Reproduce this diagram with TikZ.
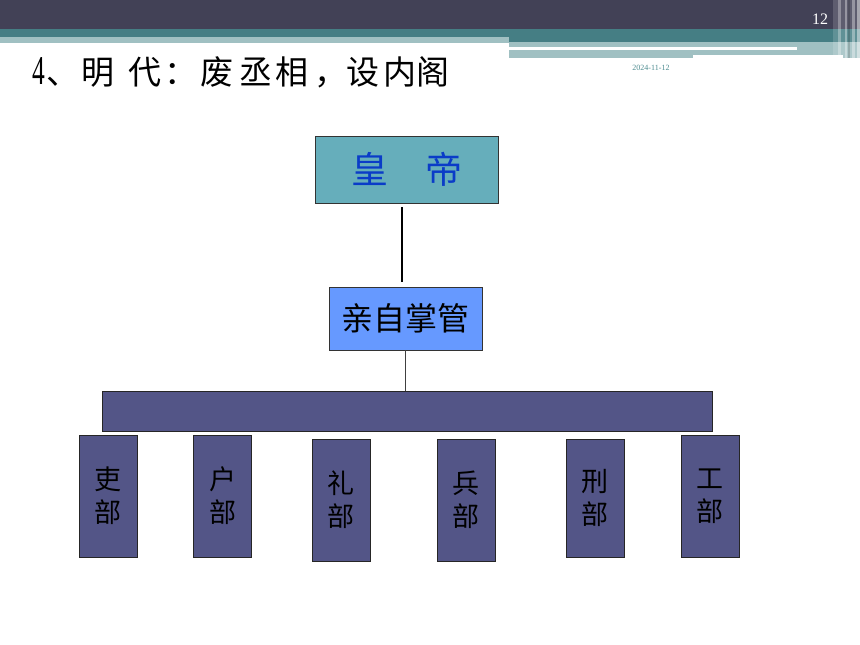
\documentclass[tikz,border=0pt]{standalone}
\usepackage{fontspec}
\setmainfont{Liberation Serif}
\newfontfamily\cjk{Noto Sans CJK SC}
\definecolor{hdark}{HTML}{424156}
\definecolor{hteal}{HTML}{457E84}
\definecolor{hlight}{HTML}{A0C0C2}
\definecolor{emp}{HTML}{66AEBB}
\definecolor{empt}{HTML}{0A3CC8}
\definecolor{qz}{HTML}{6699FF}
\definecolor{slate}{HTML}{535587}
\definecolor{datec}{HTML}{4D8C90}
\newcommand\tcc[2]{\rlap{\hspace*{#1pt}\makebox[0pt]{#2}}}
\newcommand\tcl[2]{\rlap{\hspace*{#1pt}#2}}
\begin{document}
\begin{tikzpicture}[x=1pt,y=-1pt,
  topbox/.style={draw=black!80,line width=0.8pt,fill=emp,minimum width=183pt,minimum height=67pt,inner sep=0pt,
    font=\cjk\fontsize{37}{37}\selectfont,text=empt},
  midbox/.style={draw=black!80,line width=0.8pt,fill=qz,minimum width=153pt,minimum height=63pt,inner sep=0pt,
    font=\cjk\fontsize{32}{32}\selectfont},
  barbox/.style={draw=black!85,line width=0.8pt,fill=slate,minimum width=610pt,minimum height=40pt,inner sep=0pt},
  dept/.style={draw=black!85,line width=0.8pt,fill=slate,minimum width=58pt,minimum height=122pt,inner sep=0pt,
    align=center,font=\cjk\fontsize{27}{33}\selectfont},
]
\useasboundingbox (0,0) rectangle (860,645);
\fill[white] (0,0) rectangle (860,645);
% header
\fill[hdark] (0,0) rectangle (860,29);
\fill[hteal] (0,29) rectangle (509,37);
\fill[hlight] (0,37) rectangle (509,43);
\fill[hteal] (509,29) rectangle (860,42);
\fill[hlight] (509,42) rectangle (860,58);
\fill[white] (509,47) rectangle (797,49.5);
\fill[white] (693,55) rectangle (843,58);
\fill[white,opacity=0.15] (833,0) rectangle (860,58);
\fill[white,opacity=0.3] (838,0) rectangle (841,58);
\fill[white,opacity=0.35] (845,0) rectangle (847,58);
\fill[black,opacity=0.15] (848,0) rectangle (850,58);
\fill[white,opacity=0.35] (852,0) rectangle (855,58);
\fill[white,opacity=0.45] (857,0) rectangle (860,58);
\node[text=white,font=\fontsize{16}{16}\selectfont,inner sep=0pt] (pg) at (820,19) {12};
\node[anchor=base west,inner sep=0pt,font=\fontsize{33}{33}\selectfont] (title) at (0,84)
  {\tcc{38.5}{\scalebox{0.62}[1]{\fontsize{41}{41}\selectfont 4}}\cjk\tcl{46}{、}\tcc{98}{明}\tcc{145}{代}\tcl{164}{：}\tcc{217}{废}\tcc{256}{丞}\tcc{292}{相}\tcl{314}{，}\tcc{363}{设}\tcc{400}{内}\tcc{433}{阁}\hspace*{446pt}};
\node[text=datec,font=\fontsize{8}{8}\selectfont,inner sep=0pt] (date) at (651,68) {2024-11-12};
% diagram
\node[topbox] (hd) at (406.5,169.5) {皇　帝};
\node[midbox] (zg) at (405.5,318.5) {亲自掌管};
\node[barbox] (bar) at (407,411) {};
\node[dept] (d1) at (108,496) {吏\\部};
\node[dept] (d2) at (222.5,496) {户\\部};
\node[dept] (d3) at (341,500) {礼\\部};
\node[dept] (d4) at (466,500) {兵\\部};
\node[dept,minimum height=118pt] (d5) at (595,498) {刑\\部};
\node[dept] (d6) at (710,496) {工\\部};
\draw[line width=2.5pt,shorten <=4pt,shorten >=5pt] ([xshift=-4.5pt]hd.south) -- ([xshift=-3.5pt]zg.north);
\draw[line width=0.8pt,black!75] (zg.south) -- (zg.south |- bar.north);
\end{tikzpicture}
\end{document}
